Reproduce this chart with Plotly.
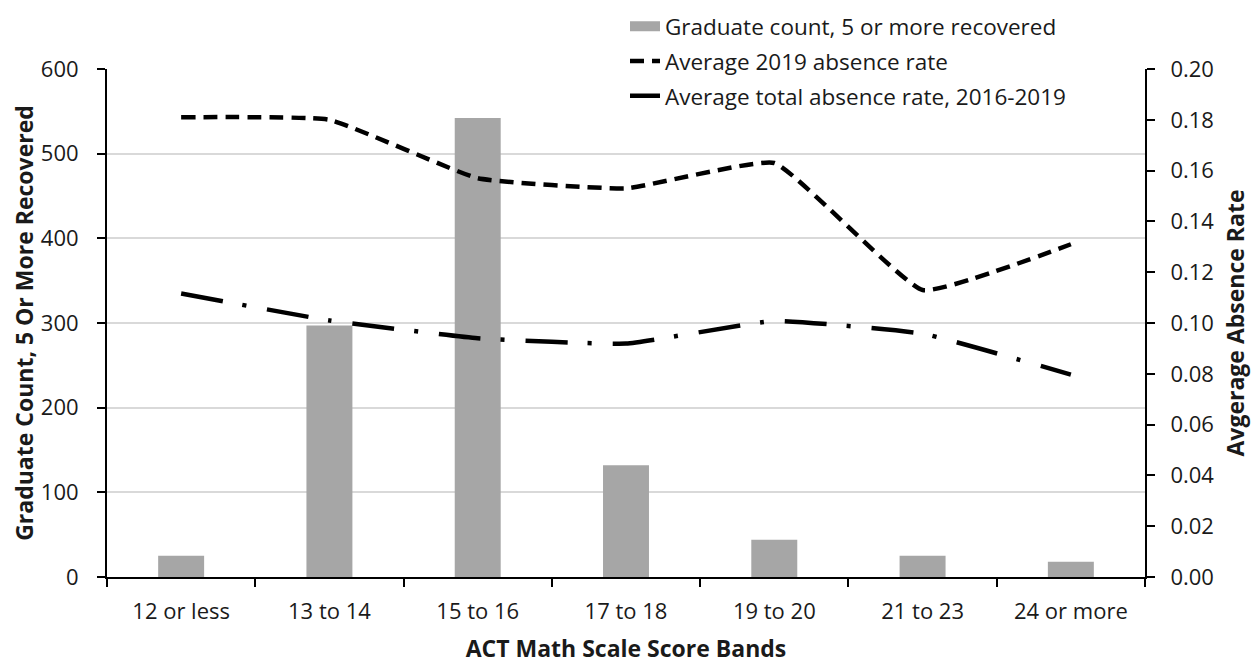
import plotly.graph_objects as go

categories = ["12 or less", "13 to 14", "15 to 16", "17 to 18", "19 to 20", "21 to 23", "24 or more"]
graduate_count = [25, 297, 542, 132, 44, 25, 18]
absence_2019 = [0.181, 0.180, 0.157, 0.153, 0.163, 0.113, 0.131]
absence_total = [0.1116, 0.101, 0.094, 0.0919, 0.1008, 0.0958, 0.0797]

FONT = "Open Sans"
TXT = "#1a1a1a"
BAR_COLOR = "#A6A6A6"

fig = go.Figure()
fig.add_trace(go.Bar(
    x=categories, y=graduate_count, name="Graduate count, 5 or more recovered",
    marker=dict(color=BAR_COLOR, line=dict(width=0)), yaxis="y", showlegend=False,
))
# legend swatch for the bars (wide rectangle, as in the reference)
fig.add_trace(go.Scatter(
    x=[None], y=[None], name="Graduate count, 5 or more recovered", mode="lines",
    line=dict(color=BAR_COLOR, width=13), yaxis="y", legendgroup="a", hoverinfo="skip",
))
fig.add_trace(go.Scatter(
    x=categories, y=absence_2019, name="Average 2019 absence rate", mode="lines",
    line=dict(color="black", width=4.5, dash="14px,8px", shape="spline", smoothing=0.35),
    yaxis="y2", legendgroup="b",
))
fig.add_trace(go.Scatter(
    x=categories, y=absence_total, name="Average total absence rate, 2016-2019", mode="lines",
    line=dict(color="black", width=4.5, dash="42px,20px,4px,21px", shape="spline", smoothing=0.35),
    yaxis="y2", legendgroup="c",
))

W, H = 1252, 656  # page body adds an 8px offset
fig.update_layout(
    width=W, height=H,
    margin=dict(l=99, r=115, t=61, b=87, autoexpand=False),
    paper_bgcolor="white", plot_bgcolor="white",
    font=dict(family=FONT, size=22, color=TXT),
    bargap=0.69,
    showlegend=True,
    legend=dict(
        x=(617 - 99) / 1038, xanchor="left", y=1.1255, yanchor="top",
        yref="paper", bgcolor="rgba(0,0,0,0)", borderwidth=0,
        font=dict(family=FONT, size=22.5, color=TXT),
        tracegroupgap=2.5, traceorder="grouped",
    ),
    xaxis=dict(
        type="category", showline=True, linecolor="black", linewidth=2,
        ticks="outside", tickson="boundaries", ticklen=8, tickwidth=2, tickcolor="black",
        tickfont=dict(family=FONT, size=22, color=TXT), ticklabelstandoff=14,
        title=dict(text="<b>ACT Math Scale Score Bands</b>", font=dict(family=FONT, size=23, color=TXT), standoff=35),
        automargin=False, showgrid=False,
    ),
    yaxis=dict(
        range=[0, 600], dtick=100, showline=True, linecolor="black", linewidth=2,
        ticks="outside", ticklen=8, tickwidth=2, tickcolor="black",
        showgrid=True, gridcolor="#D9D9D9", gridwidth=2, zeroline=False,
        tickfont=dict(family=FONT, size=22, color=TXT), ticklabelstandoff=14,
        title=dict(text="<b>Graduate Count, 5 Or More Recovered</b>", font=dict(family=FONT, size=23, color=TXT), standoff=10),
        automargin=False,
    ),
    yaxis2=dict(
        range=[0, 0.2], dtick=0.02, tickformat=".2f", overlaying="y", side="right",
        showline=True, linecolor="black", linewidth=2,
        ticks="outside", ticklen=8, tickwidth=2, tickcolor="black",
        showgrid=False, zeroline=False,
        tickfont=dict(family=FONT, size=22, color=TXT), ticklabelstandoff=11,
        title=dict(text="<b>Avgerage Absence Rate</b>", font=dict(family=FONT, size=23, color=TXT), standoff=15),
        automargin=False,
    ),
)

fig.write_html("out.html")
